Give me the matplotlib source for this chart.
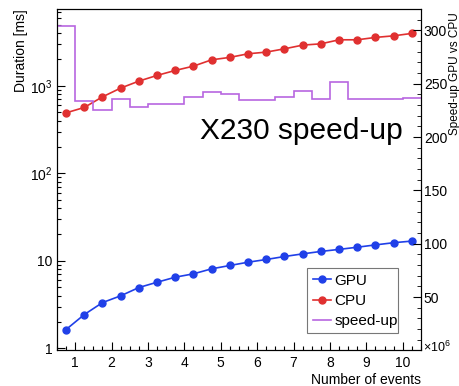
import matplotlib
matplotlib.use("Agg")
import matplotlib.pyplot as plt
import numpy as np
from matplotlib.lines import Line2D
from matplotlib.ticker import FixedLocator, MultipleLocator, NullFormatter

plt.rcParams['font.family'] = ['Liberation Sans', 'DejaVu Sans']
plt.rcParams['mathtext.fontset'] = 'custom'
plt.rcParams['mathtext.rm'] = 'Liberation Sans'
plt.rcParams['mathtext.it'] = 'Liberation Sans'

# Data (number of events in units of 1e6)
events = [0.75, 1.25, 1.75, 2.25, 2.75, 3.25, 3.75, 4.25, 4.75, 5.25,
          5.75, 6.25, 6.75, 7.25, 7.75, 8.25, 8.75, 9.25, 9.75, 10.25]
cpu_ms = [491, 566, 748, 942, 1132, 1315, 1499, 1679, 1983, 2113,
          2323, 2428, 2648, 2918, 3019, 3357, 3357, 3574, 3727, 3972]
gpu_ms = [1.64, 2.43, 3.33, 3.98, 4.95, 5.69, 6.50, 7.10, 8.10, 8.84,
          9.64, 10.35, 11.2, 12.0, 12.8, 13.5, 14.3, 15.2, 16.1, 16.8]
speedup = [304, 233.6, 225.4, 236, 228.5, 231, 231, 237.3, 242, 240,
           235, 234.5, 237.3, 243, 235.5, 251.6, 235.5, 235.7, 236, 236.4]
bin_edges = [0.5, 1.0, 1.5, 2.0, 2.5, 3.0, 3.5, 4.0, 4.5, 5.0, 5.5,
             6.0, 6.5, 7.0, 7.5, 8.0, 8.5, 9.0, 9.5, 10.0, 10.5]
left_tick_vals = [1, 10, 100, 1000]
left_tick_labels = ['1', '10', '$10^2$', '$10^3$']
x_ticks = [1, 2, 3, 4, 5, 6, 7, 8, 9, 10]
right_ticks = [50, 100, 150, 200, 250, 300]

blue = '#2040e8'
red = '#e03030'
purple = '#b866e0'

fig = plt.figure(figsize=(4.6, 3.86), dpi=100)
ax = fig.add_axes([0.1239, 0.0920, 0.9152 - 0.1239, 0.9767 - 0.0920])
ax.set_yscale('log')
ax.set_xlim(0.5, 10.5)
ax.set_ylim(0.944, 7550)

ax.plot(events, gpu_ms, '-o', color=blue, lw=1.2, ms=5, zorder=3)
ax.plot(events, cpu_ms, '-o', color=red, lw=1.2, ms=5, zorder=3)

ax.yaxis.set_major_locator(FixedLocator(left_tick_vals))
ax.set_yticklabels(left_tick_labels)
ax.yaxis.set_minor_formatter(NullFormatter())
ax.set_xticks(x_ticks)
ax.xaxis.set_minor_locator(MultipleLocator(0.25))

ax.tick_params(axis='both', which='both', direction='in', labelsize=10,
               top=False, right=False)
ax.tick_params(axis='both', which='major', length=6, width=0.8)
ax.tick_params(axis='both', which='minor', length=3, width=0.8)
ax.tick_params(axis='y', pad=3)
ax.tick_params(axis='x', pad=4)

ax.set_ylabel('Duration [ms]', fontsize=10, loc='top', labelpad=2)
ax.set_xlabel('Number of events', fontsize=10, loc='right', labelpad=2)
ax.text(1.005, 0.01, r'$\times10^6$', transform=ax.transAxes, fontsize=9,
        ha='left', va='center')

ax2 = ax.twinx()
ax2.set_ylim(0, 320)
ax2.stairs(speedup, bin_edges, color=purple, lw=1.2, zorder=2, baseline=None)
ax2.set_yticks(right_ticks)
ax2.yaxis.set_minor_locator(MultipleLocator(10))
ax2.tick_params(axis='y', which='both', direction='in', labelsize=10, pad=2)
ax2.tick_params(axis='y', which='major', length=6)
ax2.tick_params(axis='y', which='minor', length=3)
fig.text(455 / 460, 1 - 12 / 386, 'Speed-up GPU vs CPU', fontsize=8.5,
         rotation=90, ha='center', va='top')

ax2.text(0.393, 0.619, 'X230 speed-up', transform=ax.transAxes, fontsize=21.5,
         ha='left', va='baseline', zorder=5)

handles = [Line2D([], [], color=blue, marker='o', ms=5, lw=1.2),
           Line2D([], [], color=red, marker='o', ms=5, lw=1.2),
           Line2D([], [], color=purple, lw=1.2)]
leg = ax2.legend(handles, ['GPU', 'CPU', 'speed-up'], loc='lower left',
                 bbox_to_anchor=(0.688, 0.05, 0.25, 0.19),
                 bbox_transform=ax.transAxes, mode='expand',
                 fontsize=11, frameon=True, fancybox=False,
                 edgecolor='#555555', handlelength=1.2, handletextpad=0.2,
                 borderpad=0.35, labelspacing=0.4, borderaxespad=0)
leg.get_frame().set_linewidth(0.8)

fig.savefig('out.png', dpi=100)
